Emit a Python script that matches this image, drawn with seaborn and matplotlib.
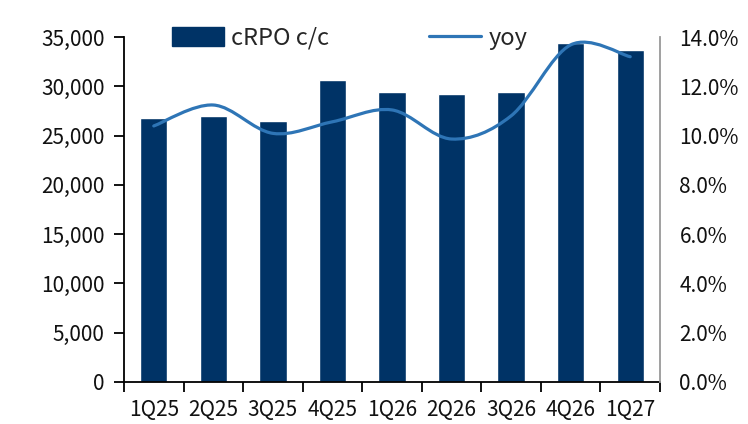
import numpy as np
import pandas as pd
import matplotlib
matplotlib.use("Agg")
import matplotlib.pyplot as plt
import seaborn as sns
from matplotlib.path import Path
from matplotlib.patches import PathPatch, Patch
from matplotlib.lines import Line2D
from matplotlib.ticker import FuncFormatter, MultipleLocator

quarters = ["1Q25", "2Q25", "3Q25", "4Q25", "1Q26", "2Q26", "3Q26", "4Q26", "1Q27"]
crpo = [26750, 26950, 26480, 30640, 29450, 29250, 29390, 34420, 33650]
yoy = [10.39, 11.24, 10.09, 10.56, 11.04, 9.86, 10.80, 13.68, 13.20]

BAR = "#003366"
LINE = "#2E75B6"

sns.set_theme(style="white")
plt.rcParams["font.family"] = ["Noto Sans CJK SC", "DejaVu Sans"]

fig = plt.figure(figsize=(7.48, 4.24), dpi=100)
ax = fig.add_axes([124 / 748, 42 / 424, (660 - 124) / 748, (382 - 37) / 424])

df = pd.DataFrame({"q": quarters, "v": crpo})
sns.barplot(data=df, x="q", y="v", color=BAR, width=0.46, saturation=1, ax=ax)

ax.set_xlim(-0.5, len(quarters) - 0.5)
ax.set_ylim(0, 35000)
ax.yaxis.set_major_locator(MultipleLocator(5000))
ax.yaxis.set_major_formatter(FuncFormatter(lambda v, p: f"{int(v):,}"))
ax.set_xlabel("")
ax.set_ylabel("")

for s in ["top", "right"]:
    ax.spines[s].set_visible(False)
for s in ["left", "bottom"]:
    ax.spines[s].set_color("black")
    ax.spines[s].set_linewidth(1.3)

ax.tick_params(axis="y", which="major", left=True, length=7, width=1.3,
               color="black", labelsize=15, pad=7, labelcolor="#111111")
ax.set_xticks(np.arange(-0.5, len(quarters), 1.0), minor=True)
ax.tick_params(axis="x", which="minor", bottom=True, length=7, width=1.3, color="black")
ax.tick_params(axis="x", which="major", bottom=False, length=0, labelsize=15, pad=12,
               labelcolor="#111111")

ax2 = ax.twinx()
ax2.set_ylim(0, 14)
ax2.yaxis.set_major_locator(MultipleLocator(2))
ax2.yaxis.set_major_formatter(FuncFormatter(lambda v, p: f"{v:.1f}%"))
for s in ["top", "left", "bottom"]:
    ax2.spines[s].set_visible(False)
ax2.spines["right"].set_color("#999999")
ax2.spines["right"].set_linewidth(1.3)
ax2.tick_params(axis="y", right=False, length=0, labelsize=15, pad=14,
                labelcolor="#111111")
ax2.grid(False)
ax.grid(False)

# smooth line (Catmull-Rom as cubic Bezier through the data points)
xs = np.arange(len(yoy), dtype=float)
ys = np.asarray(yoy, dtype=float)
pts = np.column_stack([xs, ys])
ext = np.vstack([pts[0], pts, pts[-1]])
verts = [tuple(pts[0])]
codes = [Path.MOVETO]
for i in range(len(pts) - 1):
    p0, p1, p2, p3 = ext[i], ext[i + 1], ext[i + 2], ext[i + 3]
    c1 = p1 + (p2 - p0) / 6.0
    c2 = p2 - (p3 - p1) / 6.0
    verts += [tuple(c1), tuple(c2), tuple(p2)]
    codes += [Path.CURVE4] * 3
ax2.add_patch(PathPatch(Path(verts, codes), fill=False, edgecolor=LINE,
                        linewidth=2.3, capstyle="round", zorder=3))

handles = [Patch(facecolor=BAR, edgecolor=BAR),
           Line2D([0], [0], color=LINE, linewidth=2.3)]
fig.legend(handles, ["cRPO c/c", "yoy"], loc="center left",
           bbox_to_anchor=(172 / 748, (424 - 38) / 424), ncol=2, frameon=False,
           fontsize=17, handlelength=2.2, handleheight=0.9, handletextpad=0.3,
           columnspacing=4.25, borderpad=0, borderaxespad=0)

fig.savefig("out.png", dpi=100)
